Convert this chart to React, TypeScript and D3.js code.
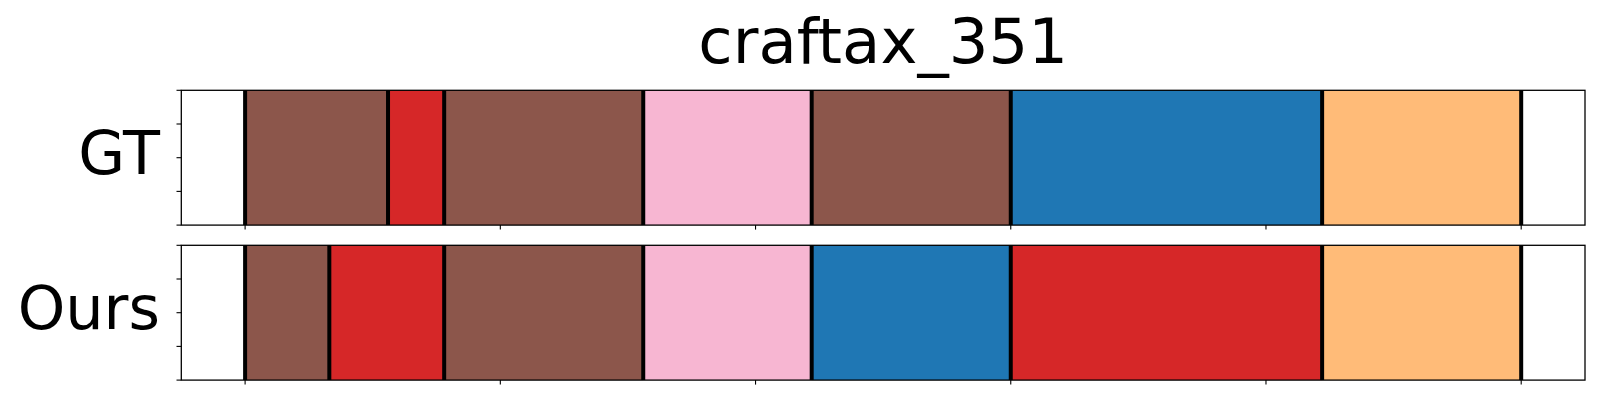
import React from "react";
import * as d3 from "d3";

const title = "craftax_351";
const rowLabels = ["GT", "Ours"];
const totalFrames = 250;
const xTicks = [0, 50, 100, 150, 200, 250];
const yTicks = [0, 0.25, 0.5, 0.75, 1];

// segment boundaries (frames) and labels per row
const gtBounds = [0, 28, 39, 78, 111, 150, 211, 250];
const gtLabels = ["brown", "red", "brown", "pink", "brown", "blue", "orange"];
const oursBounds = [0, 16.5, 39, 78, 111, 150, 211, 250];
const oursLabels = ["brown", "red", "brown", "pink", "blue", "red", "orange"];

const colorOf: Record<string, string> = {
  brown: "#8c564b",
  red: "#d62728",
  pink: "#f7b6d2",
  blue: "#1f77b4",
  orange: "#ffbb78",
};

const rows = [
  { label: rowLabels[0], bounds: gtBounds, labels: gtLabels },
  { label: rowLabels[1], bounds: oursBounds, labels: oursLabels },
];

const W = 1600;
const H = 400;
const left = 181.3;
const right = 1585;
const panelTops = [90.3, 245.3];
const panelH = 134.8;
const font = "DejaVu Sans, sans-serif";

export default function App() {
  const margin = totalFrames * 0.05;
  const x = d3.scaleLinear().domain([-margin, totalFrames + margin]).range([left, right]);
  return (
    <svg
      width={W}
      height={H}
      style={{ position: "absolute", left: 0, top: 0, background: "#fff" }}
    >
      <text x={(left + right) / 2} y={62.5} textAnchor="middle" fontFamily={font} fontSize={62.5} fill="#000">
        {title}
      </text>
      {rows.map((row, ri) => {
        const top = panelTops[ri];
        const y = d3.scaleLinear().domain([0, 1]).range([top + panelH, top]);
        return (
          <g key={ri}>
            {row.labels.map((lab, i) => (
              <rect
                key={i}
                x={x(row.bounds[i])}
                y={y(1)}
                width={x(row.bounds[i + 1]) - x(row.bounds[i])}
                height={y(0) - y(1)}
                fill={colorOf[lab]}
              />
            ))}
            {row.bounds.map((b, i) => (
              <line
                key={"b" + i}
                x1={x(b)}
                x2={x(b)}
                y1={y(1)}
                y2={y(0)}
                stroke="#000"
                strokeWidth={4}
              />
            ))}
            <rect
              x={left}
              y={top}
              width={right - left}
              height={panelH}
              fill="none"
              stroke="#000"
              strokeWidth={1.3}
            />
            {xTicks.map((t) => (
              <line key={"xt" + t} x1={x(t)} x2={x(t)} y1={y(0)} y2={y(0) + 4.5} stroke="#000" strokeWidth={1.1} />
            ))}
            {yTicks.map((t) => (
              <line key={"yt" + t} x1={left} x2={left - 4.8} y1={y(t)} y2={y(t)} stroke="#000" strokeWidth={1.1} />
            ))}
            <text
              x={160}
              y={top + panelH / 2 + 16}
              textAnchor="end"
              fontFamily={font}
              fontSize={60.5}
              fill="#000"
            >
              {row.label}
            </text>
          </g>
        );
      })}
    </svg>
  );
}
